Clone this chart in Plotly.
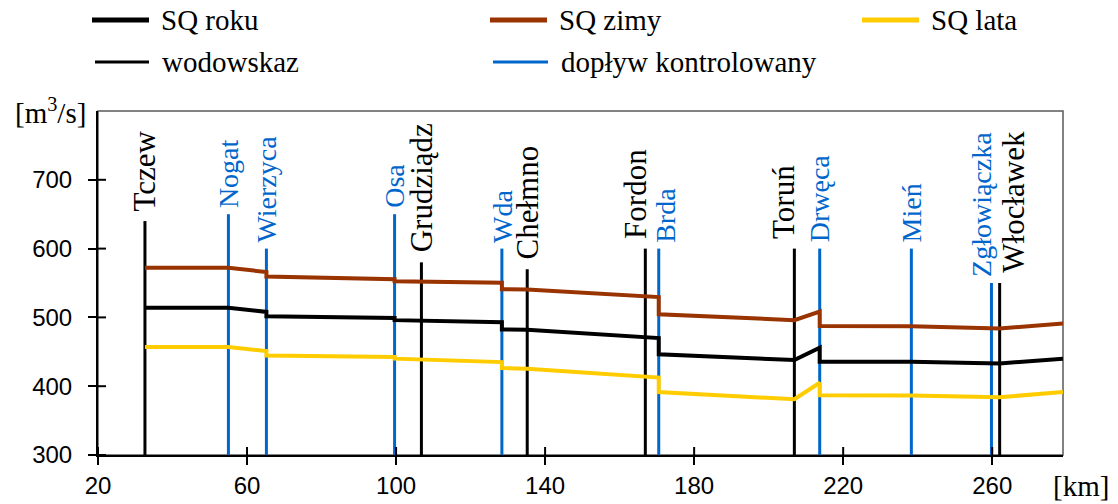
import plotly.graph_objects as go

# ---- data -------------------------------------------------------------
# river kilometre of each profile point (repeated km = step at an inflow)
km = [32.6, 55.0, 65.2, 65.2, 99.6, 99.6, 128.4, 128.4, 135.2, 166.9,
      170.5, 170.5, 206.9, 213.7, 213.7, 238.3, 259.8, 262.0, 279.0]
sq_roku = [514, 514, 508, 501.5, 499, 496, 493, 482.5, 482, 470.5,
           470, 446.5, 438, 456, 435.5, 435.5, 434, 433, 440]
sq_zimy = [572, 572, 566, 559.5, 555.5, 552.5, 550.5, 541, 540.5, 530,
           529.5, 504.5, 496, 508.5, 487.5, 487, 485, 484, 491]
sq_lata = [457, 457, 451, 444.5, 442.5, 440, 435, 426.5, 425.5, 413,
           412.5, 391.5, 381, 405, 387, 386.5, 384.5, 384, 391.5]

gauge_names = ["Tczew", "Grudziądz", "Chełmno", "Fordon", "Toruń", "Włocławek"]
gauge_km = [32.6, 106.8, 135.2, 166.9, 206.9, 262.0]
gauge_top = [640, 580, 570, 600, 600, 550]

trib_names = ["Nogat", "Wierzyca", "Osa", "Wda", "Brda", "Drwęca", "Mień", "Zgłowiączka"]
trib_km = [55.0, 65.2, 99.6, 128.4, 170.5, 213.7, 238.3, 259.8]
trib_top = [650, 600, 650, 600, 600, 600, 600, 550]

x_ticks = [20, 60, 100, 140, 180, 220, 260]
y_ticks = [300, 400, 500, 600, 700]

# ---- styling ------------------------------------------------------------
SERIF = "Liberation Serif"
SANS = "Liberation Sans"
BLACK = "#000000"
BROWN = "#993300"
YELLOW = "#FFCC00"
BLUE = "#0066CC"
FRAME = "#595959"

W, H = 1118, 504
ML, MR, MT, MB = 98, 55, 111, 49
PW, PH = W - ML - MR, H - MT - MB
X_MIN, X_MAX = 20, 279
Y_MIN, Y_MAX = 300, 800
TICK = 8  # half length of the crossing tick marks, px

# small sideways nudges (px) for crowded station labels
label_nudge = {"Fordon": -10, "Brda": 6, "Toruń": -11,
               "Zgłowiączka": -10, "Włocławek": 13}


def px_x(px):
    return (px - ML) / PW


def px_y(py):
    return (H - MB - py) / PH


def verticals(xs, tops):
    vx, vy = [], []
    for x, t in zip(xs, tops):
        vx += [x, x, None]
        vy += [Y_MIN, t, None]
    return vx, vy


fig = go.Figure()

gx, gy = verticals(gauge_km, gauge_top)
fig.add_trace(go.Scatter(x=gx, y=gy, mode="lines", name="wodowskaz",
                         line=dict(color=BLACK, width=3), showlegend=False,
                         hoverinfo="skip"))
tx, ty = verticals(trib_km, trib_top)
fig.add_trace(go.Scatter(x=tx, y=ty, mode="lines", name="dopływ kontrolowany",
                         line=dict(color=BLUE, width=3), showlegend=False,
                         hoverinfo="skip"))

for name, vals, col in [("SQ roku", sq_roku, BLACK),
                        ("SQ zimy", sq_zimy, BROWN),
                        ("SQ lata", sq_lata, YELLOW)]:
    fig.add_trace(go.Scatter(x=km, y=vals, mode="lines", name=name,
                             line=dict(color=col, width=4), showlegend=False))

annotations = []
for names, xs, tops, col, size, gap in [
        (gauge_names, gauge_km, gauge_top, BLACK, 31, 8),
        (trib_names, trib_km, trib_top, BLUE, 28, 4)]:
    for n, x, t in zip(names, xs, tops):
        annotations.append(dict(
            x=x, y=t, xref="x", yref="y", text=n, textangle=-90,
            showarrow=False, xanchor="center", yanchor="bottom",
            yshift=gap, xshift=label_nudge.get(n, 0),
            font=dict(family=SERIF, size=size, color=col)))

# axis unit labels
annotations.append(dict(x=px_x(1081), y=px_y(486), xref="paper", yref="paper",
                        text="[km]", showarrow=False, xanchor="center",
                        yanchor="middle",
                        font=dict(family=SERIF, size=29, color=BLACK)))
annotations.append(dict(x=px_x(50), y=px_y(111), xref="paper", yref="paper",
                        text="[m<sup>3</sup>/s]", showarrow=False,
                        xanchor="center", yanchor="middle",
                        font=dict(family=SERIF, size=29, color=BLACK)))

shapes = [dict(type="rect", xref="paper", yref="paper", x0=0, x1=1, y0=0, y1=1,
               line=dict(color=FRAME, width=1.5), layer="below")]

# inner halves of the crossing tick marks (outer halves are axis ticks)
for v in y_ticks:
    shapes.append(dict(type="line", xref="paper", yref="y",
                       x0=0, x1=TICK / PW, y0=v, y1=v,
                       line=dict(color=BLACK, width=2)))
for v in x_ticks:
    shapes.append(dict(type="line", xref="x", yref="paper",
                       y0=0, y1=TICK / PH, x0=v, x1=v,
                       line=dict(color=BLACK, width=2)))

# legend keys
legend_items = [
    ("SQ roku", BLACK, 5, 92, 149, 20, 159),
    ("SQ zimy", BROWN, 5, 490, 547, 20, 557),
    ("SQ lata", YELLOW, 5, 862, 919, 20, 929),
    ("wodowskaz", BLACK, 3, 95, 149, 62, 160),
    ("dopływ kontrolowany", BLUE, 3, 493, 548, 62, 559),
]
for text, col, lw, x0, x1, yy, tx0 in legend_items:
    shapes.append(dict(type="line", xref="paper", yref="paper",
                       x0=px_x(x0), x1=px_x(x1), y0=px_y(yy), y1=px_y(yy),
                       line=dict(color=col, width=lw)))
    annotations.append(dict(x=px_x(tx0), y=px_y(yy), xref="paper", yref="paper",
                            text=text, showarrow=False, xanchor="left",
                            yanchor="middle",
                            font=dict(family=SERIF, size=29, color=BLACK)))

axis_common = dict(ticks="outside", ticklen=TICK, tickwidth=2, tickcolor=BLACK,
                   showgrid=False, zeroline=False, showline=True,
                   linecolor=BLACK, linewidth=2, automargin=False,
                   tickfont=dict(family=SANS, size=24, color=BLACK))

fig.update_layout(
    width=W, height=H,
    margin=dict(l=ML, r=MR, t=MT, b=MB, pad=0),
    paper_bgcolor="white", plot_bgcolor="white",
    showlegend=False,
    annotations=annotations,
    shapes=shapes,
    xaxis=dict(range=[X_MIN, X_MAX], tickvals=x_ticks, ticklabelstandoff=0,
               **axis_common),
    yaxis=dict(range=[Y_MIN, Y_MAX], tickvals=y_ticks, ticklabelstandoff=11,
               **axis_common),
)

fig.write_html("out.html")
